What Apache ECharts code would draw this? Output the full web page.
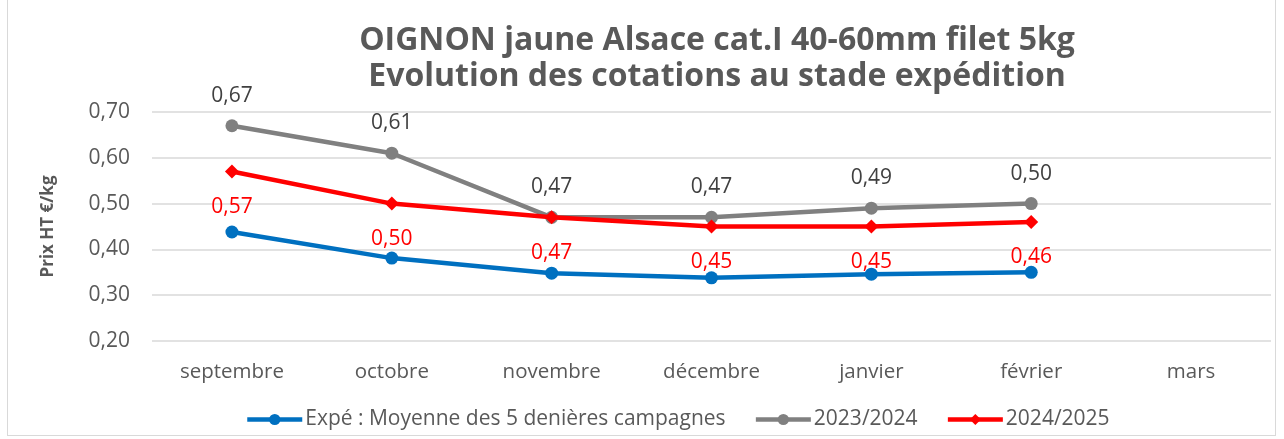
<!DOCTYPE html>
<html><head><meta charset="utf-8">
<script src="https://cdn.jsdelivr.net/npm/echarts@6/dist/echarts.min.js"></script>
<style>
html,body{margin:0;padding:0;background:#fff;}
#frame{position:absolute;left:7px;top:-1px;width:1269px;height:437px;border:1px solid #d9d9d9;box-sizing:border-box;}
#c{position:absolute;left:0;top:0;width:1284px;height:439px;}
</style></head>
<body><div id="frame"></div><div id="c"></div>
<script>
const categories = ['septembre','octobre','novembre','décembre','janvier','février','mars'];
const moyenne5 = [0.438, 0.381, 0.348, 0.338, 0.346, 0.350];
const s2324 = [0.67, 0.61, 0.47, 0.47, 0.49, 0.50];
const s2425 = [0.57, 0.50, 0.47, 0.45, 0.45, 0.46];
const seriesNames = ['Expé : Moyenne des 5 denières campagnes','2023/2024','2024/2025'];
const titleLines = ['OIGNON jaune Alsace cat.I 40-60mm filet 5kg','Evolution des cotations au stade expédition'];
const yAxisName = 'Prix HT €/kg';

const fmt = v => v.toFixed(2).replace('.', ',');
const font = "'Open Sans', 'DejaVu Sans', sans-serif";
const chart = echarts.init(document.getElementById('c'));
chart.setOption({
  animation:false,
  textStyle:{fontFamily:font},
  title:{text:titleLines.join('\n'), top:18, left:712, textAlign:'center',
    textStyle:{fontSize:32, fontWeight:'bold', color:'#595959', lineHeight:36, fontFamily:font}},
  legend:{top:404, left:240, itemWidth:55, itemHeight:14, itemGap:28,
    lineStyle:{width:4.5},
    textStyle:{fontSize:21, color:'#595959', fontFamily:font, padding:[0,0,0,-2]}},
  grid:{left:152, right:13, top:112, bottom:98},
  xAxis:{type:'category', data:categories, boundaryGap:true,
    axisLine:{show:false}, axisTick:{show:false},
    axisLabel:{fontSize:20.5, color:'#595959', margin:21}},
  yAxis:{type:'value', min:0.2, max:0.7, interval:0.1,
    name:yAxisName, nameLocation:'middle', nameGap:95, nameRotate:90,
    nameTextStyle:{fontSize:17, fontWeight:'bold', color:'#595959'},
    axisLabel:{fontSize:21, color:'#595959', margin:22, formatter:fmt},
    splitLine:{lineStyle:{color:'#d9d9d9', width:1.5}}},
  series:[
    {name:seriesNames[0], type:'line', data:moyenne5, symbol:'circle', symbolSize:13,
      lineStyle:{width:4.5, color:'#0070C0'}, itemStyle:{color:'#0070C0'}, z:3},
    {name:seriesNames[1], type:'line', data:s2324, symbol:'circle', symbolSize:13,
      lineStyle:{width:4.5, color:'#808080'}, itemStyle:{color:'#808080'}, z:2,
      label:{show:true, position:'top', distance:13, fontSize:21, color:'#404040', formatter:p=>fmt(p.value)}},
    {name:seriesNames[2], type:'line', data:s2425, symbol:'diamond', symbolSize:14,
      lineStyle:{width:4.5, color:'#FF0000'}, itemStyle:{color:'#FF0000'}, z:4,
      label:{show:true, position:'bottom', distance:18, fontSize:21, color:'#FF0000', formatter:p=>fmt(p.value)}}
  ]
});
</script></body></html>
